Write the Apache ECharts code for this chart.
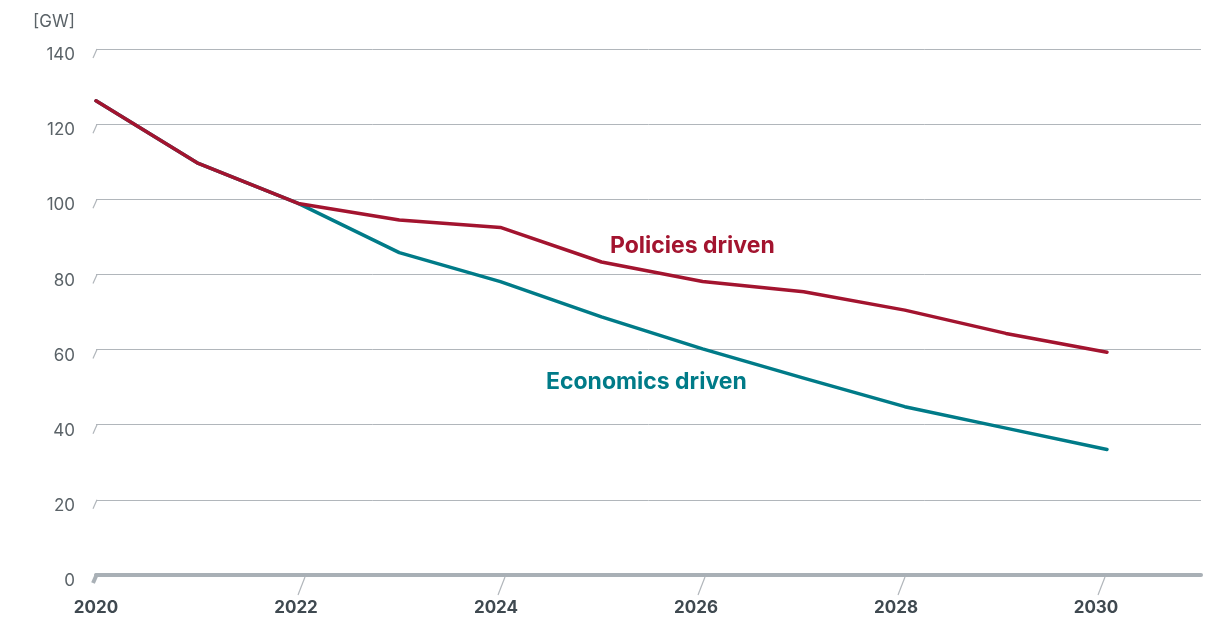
<!DOCTYPE html>
<html>
<head>
<meta charset="utf-8">
<script src="https://cdn.jsdelivr.net/npm/echarts@6/dist/echarts.min.js"></script>
<style>
  html, body { margin: 0; padding: 0; background: #ffffff; }
  #chart { width: 1208px; height: 617px; }
</style>
</head>
<body>
<div id="chart"></div>
<script>
// Installed capacity outlook, GW
const years = [2020, 2021, 2022, 2023, 2024, 2025, 2026, 2027, 2028, 2029, 2030];
const policiesDriven = [126.2, 109.7, 98.9, 94.5, 92.5, 83.3, 78.1, 75.4, 70.5, 64.3, 59.3];
const economicsDriven = [126.2, 109.7, 98.9, 85.8, 78.1, 68.7, 60.2, 52.4, 44.8, 39.1, 33.4];
const yTicks = [0, 20, 40, 60, 80, 100, 120, 140];
const xLabelYears = [2020, 2022, 2024, 2026, 2028, 2030];

const FONT = 'Inter, "Open Sans", sans-serif';
const GRID_COLOR = '#b1b6bb';
const AXIS_COLOR = '#a9b0b6';
const RED = '#a3142f';
const TEAL = '#007b88';

const chart = echarts.init(document.getElementById('chart'), null, { renderer: 'canvas' });

const option = {
  animation: false,
  backgroundColor: '#ffffff',
  grid: { left: 96, top: 49, width: 1105, bottom: 42, containLabel: false },
  xAxis: [
    {
      // scale used by the lines
      type: 'value', position: 'bottom', min: 2020, max: 2030.93,
      axisLine: { show: true, lineStyle: { color: AXIS_COLOR, width: 4 } },
      axisTick: { show: false }, axisLabel: { show: false }, splitLine: { show: false }
    },
    {
      // scale used by the year labels and their slanted ticks
      type: 'value', position: 'bottom', min: 2020, max: 2031.05, interval: 2,
      axisLine: { show: false }, axisTick: { show: false }, splitLine: { show: false },
      axisLabel: {
        show: true, margin: 24, showMaxLabel: false,
        color: '#3f4950', fontFamily: FONT, fontSize: 17, fontWeight: 'bold',
        formatter: v => (xLabelYears.indexOf(v) >= 0 ? String(v) : '')
      }
    }
  ],
  yAxis: {
    type: 'value', min: 0, max: 140, interval: 20,
    axisLine: { show: false }, axisTick: { show: false },
    splitLine: { show: true, lineStyle: { color: GRID_COLOR, width: 1 } },
    axisLabel: {
      margin: 21, color: '#5b6368', fontFamily: FONT, fontSize: 17,
      verticalAlign: 'top', lineHeight: 12
    }
  },
  graphic: [
    { type: 'text', left: 33, top: 13, style: { text: '[GW]', fill: '#5b6368', font: '17px ' + FONT } },
    { type: 'text', left: 610, top: 235, style: { text: 'Policies driven', fill: RED, font: 'bold 23px ' + FONT } },
    { type: 'text', left: 546, top: 371, style: { text: 'Economics driven', fill: TEAL, font: 'bold 23px ' + FONT } }
  ],
  series: [
    {
      // slanted stubs at the left end of each gridline
      type: 'custom', xAxisIndex: 0, yAxisIndex: 0, silent: true, z: 1,
      data: yTicks.map(v => [2020, v]),
      renderItem: (params, api) => {
        const p = api.coord([api.value(0), api.value(1)]);
        const zero = api.value(1) === 0;
        return {
          type: 'line',
          shape: zero
            ? { x1: p[0] + 1, y1: p[1] - 1, x2: p[0] - 3, y2: p[1] + 8 }
            : { x1: p[0] + 1, y1: p[1], x2: p[0] - 3, y2: p[1] + 9 },
          style: { stroke: zero ? AXIS_COLOR : GRID_COLOR, lineWidth: zero ? 4 : 1.2 }
        };
      }
    },
    {
      // slanted ticks under the year labels
      type: 'custom', xAxisIndex: 1, yAxisIndex: 0, silent: true, z: 1,
      data: xLabelYears.slice(1).map(y => [y, 0]),
      renderItem: (params, api) => {
        const p = api.coord([api.value(0), api.value(1)]);
        return {
          type: 'line',
          shape: { x1: p[0] + 9, y1: p[1] + 2, x2: p[0] + 2, y2: p[1] + 20 },
          style: { stroke: GRID_COLOR, lineWidth: 1.2 }
        };
      }
    },
    {
      name: 'Economics driven', type: 'line', xAxisIndex: 0, yAxisIndex: 0,
      data: years.map((y, i) => [y, economicsDriven[i]]),
      showSymbol: false, symbol: 'none', z: 3,
      lineStyle: { color: TEAL, width: 3.5, cap: 'round', join: 'round' }
    },
    {
      name: 'Policies driven', type: 'line', xAxisIndex: 0, yAxisIndex: 0,
      data: years.map((y, i) => [y, policiesDriven[i]]),
      showSymbol: false, symbol: 'none', z: 4,
      lineStyle: { color: RED, width: 3.5, cap: 'round', join: 'round' }
    }
  ]
};

chart.setOption(option);
</script>
</body>
</html>
